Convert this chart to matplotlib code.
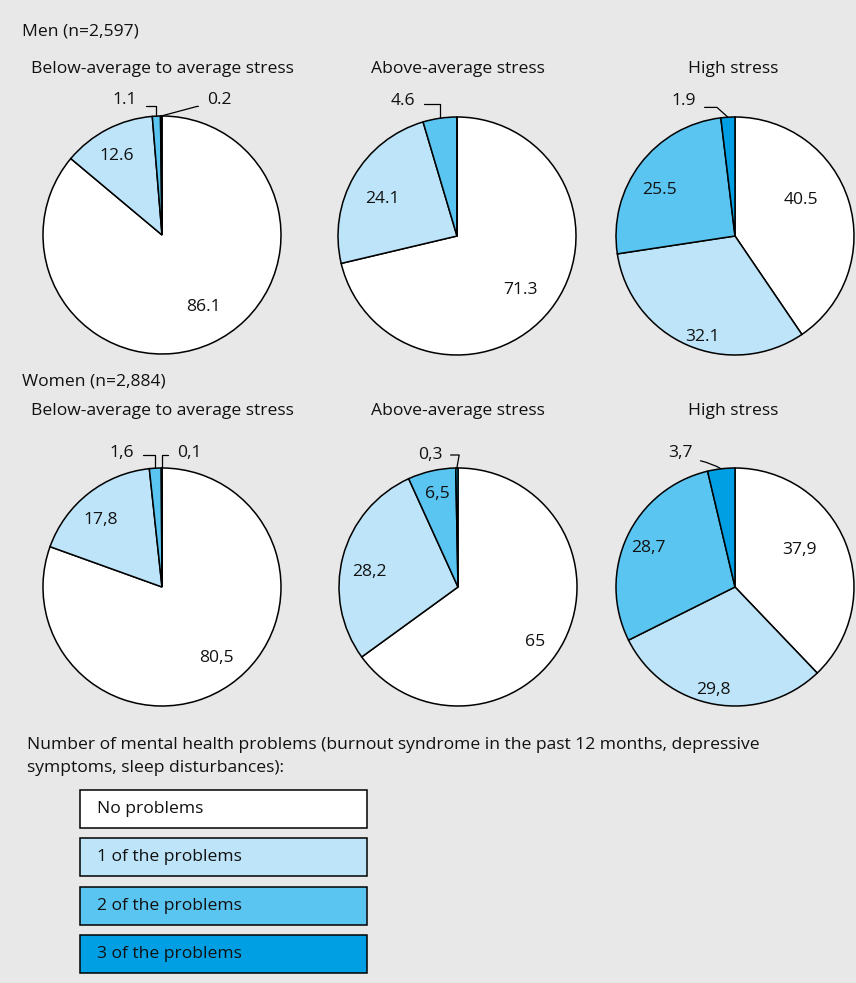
import numpy as np
import matplotlib.pyplot as plt

plt.rcParams["font.family"] = ["Open Sans", "DejaVu Sans"]

# Data
categories = ["No problems", "1 of the problems", "2 of the problems", "3 of the problems"]
stress_levels = ["Below-average to average stress", "Above-average stress", "High stress"]
groups = ["Men (n=2,597)", "Women (n=2,884)"]

men_low = [86.1, 12.6, 1.1, 0.2]
men_above = [71.3, 24.1, 4.6, 0.0]
men_high = [40.5, 32.1, 25.5, 1.9]
women_low = [80.5, 17.8, 1.6, 0.1]
women_above = [65.0, 28.2, 6.5, 0.3]
women_high = [37.9, 29.8, 28.7, 3.7]

colors = ["#ffffff", "#bde4f8", "#5bc5f2", "#009fe3"]
BG = "#e8e8e8"
TXT = "#111111"

W, H = 856, 983
fig = plt.figure(figsize=(W / 100, H / 100), dpi=100)
fig.patch.set_facecolor(BG)
ax = fig.add_axes([0, 0, 1, 1])
ax.set_facecolor(BG)


def P(x, y):
    # pixel position (top-left origin) -> data coords
    return (x, H - y)


R = 119
FS = 12.6

# label layout per pie: inside labels (pixel pos) or leader labels (text pos, relpos, connection)
pies = [
    (men_low, (162, 235), ".", [(203, 307), (117, 156),
                               ("lead", (125, 100), (1, 0.1), "angle,angleA=0,angleB=90,rad=0"),
                               ("lead", (219, 100), (0, 0.1), "angle,angleA=0,angleB=15,rad=0")]),
    (men_above, (457, 236), ".", [(521, 290), (382, 199),
                                 ("lead", (403, 101), (1, 0.3), "angle,angleA=0,angleB=90,rad=0"),
                                 None]),
    (men_high, (735, 236), ".", [(801, 200), (702, 337), (660, 190),
                                ("lead", (684, 101), (1, 0.1), "angle,angleA=0,angleB=-42,rad=0")]),
    (women_low, (162, 587), ",", [(216, 658), (101, 520),
                                 ("lead", (122, 453), (1, 0.4), "angle,angleA=0,angleB=90,rad=0"),
                                 ("lead", (189, 453), (0, 0.4), "angle,angleA=0,angleB=90,rad=0")]),
    (women_above, (458, 587), ",", [(535, 642), (369, 572), (437, 494),
                                   ("lead", (430, 455), (1, 0.5), "angle,angleA=0,angleB=80,rad=0")]),
    (women_high, (735, 587), ",", [(799, 550), (713, 690), (648, 548),
                                  ("lead", (680, 453), (1, 0.1), "arc3,rad=-0.1")]),
]

for values, (cx, cy), sep, layout in pies:
    wedges, _ = ax.pie(values, colors=colors, startangle=90, counterclock=False,
                       center=P(cx, cy), radius=R,
                       wedgeprops=dict(edgecolor="black", linewidth=1.1))
    for v, w, lay in zip(values, wedges, layout):
        if lay is None or v == 0:
            continue
        txt = f"{v:g}".replace(".", sep)
        if lay[0] == "lead":
            _, tpos, rel, conn = lay
            mid = np.deg2rad((w.theta1 + w.theta2) / 2)
            edge = (w.center[0] + R * np.cos(mid), w.center[1] + R * np.sin(mid))
            ax.annotate(txt, xy=edge, xytext=P(*tpos), ha="center", va="center",
                        fontsize=FS, color=TXT,
                        arrowprops=dict(arrowstyle="-", lw=0.9, color="black",
                                        connectionstyle=conn, relpos=rel,
                                        shrinkA=4, shrinkB=0))
        else:
            ax.text(*P(*lay), txt, ha="center", va="center", fontsize=FS, color=TXT)

# group and stress titles
title_x = [162, 458, 733]
for g, gy, ty in zip(groups, [31, 381], [69, 411]):
    ax.text(*P(22, gy), g, ha="left", va="center", fontsize=FS, color=TXT)
    for tx, s in zip(title_x, stress_levels):
        ax.text(*P(tx, ty), s, ha="center", va="center", fontsize=FS, color=TXT)

# legend
ax.text(*P(27, 745), "Number of mental health problems (burnout syndrome in the past 12 months, depressive",
        ha="left", va="center", fontsize=FS, color=TXT)
ax.text(*P(27, 768), "symptoms, sleep disturbances):", ha="left", va="center", fontsize=FS, color=TXT)
box_tops = [790, 838, 887, 935]
for top, lab, c in zip(box_tops, categories, colors):
    ax.add_patch(plt.Rectangle(P(80, top + 38), 287, 38, facecolor=c,
                               edgecolor="black", linewidth=1.1))
    ax.text(*P(97, top + 19), lab, ha="left", va="center", fontsize=FS, color=TXT)

ax.set_xlim(0, W)
ax.set_ylim(0, H)
ax.set_aspect("equal")
ax.axis("off")

fig.savefig("out.png", dpi=100, facecolor=BG)
